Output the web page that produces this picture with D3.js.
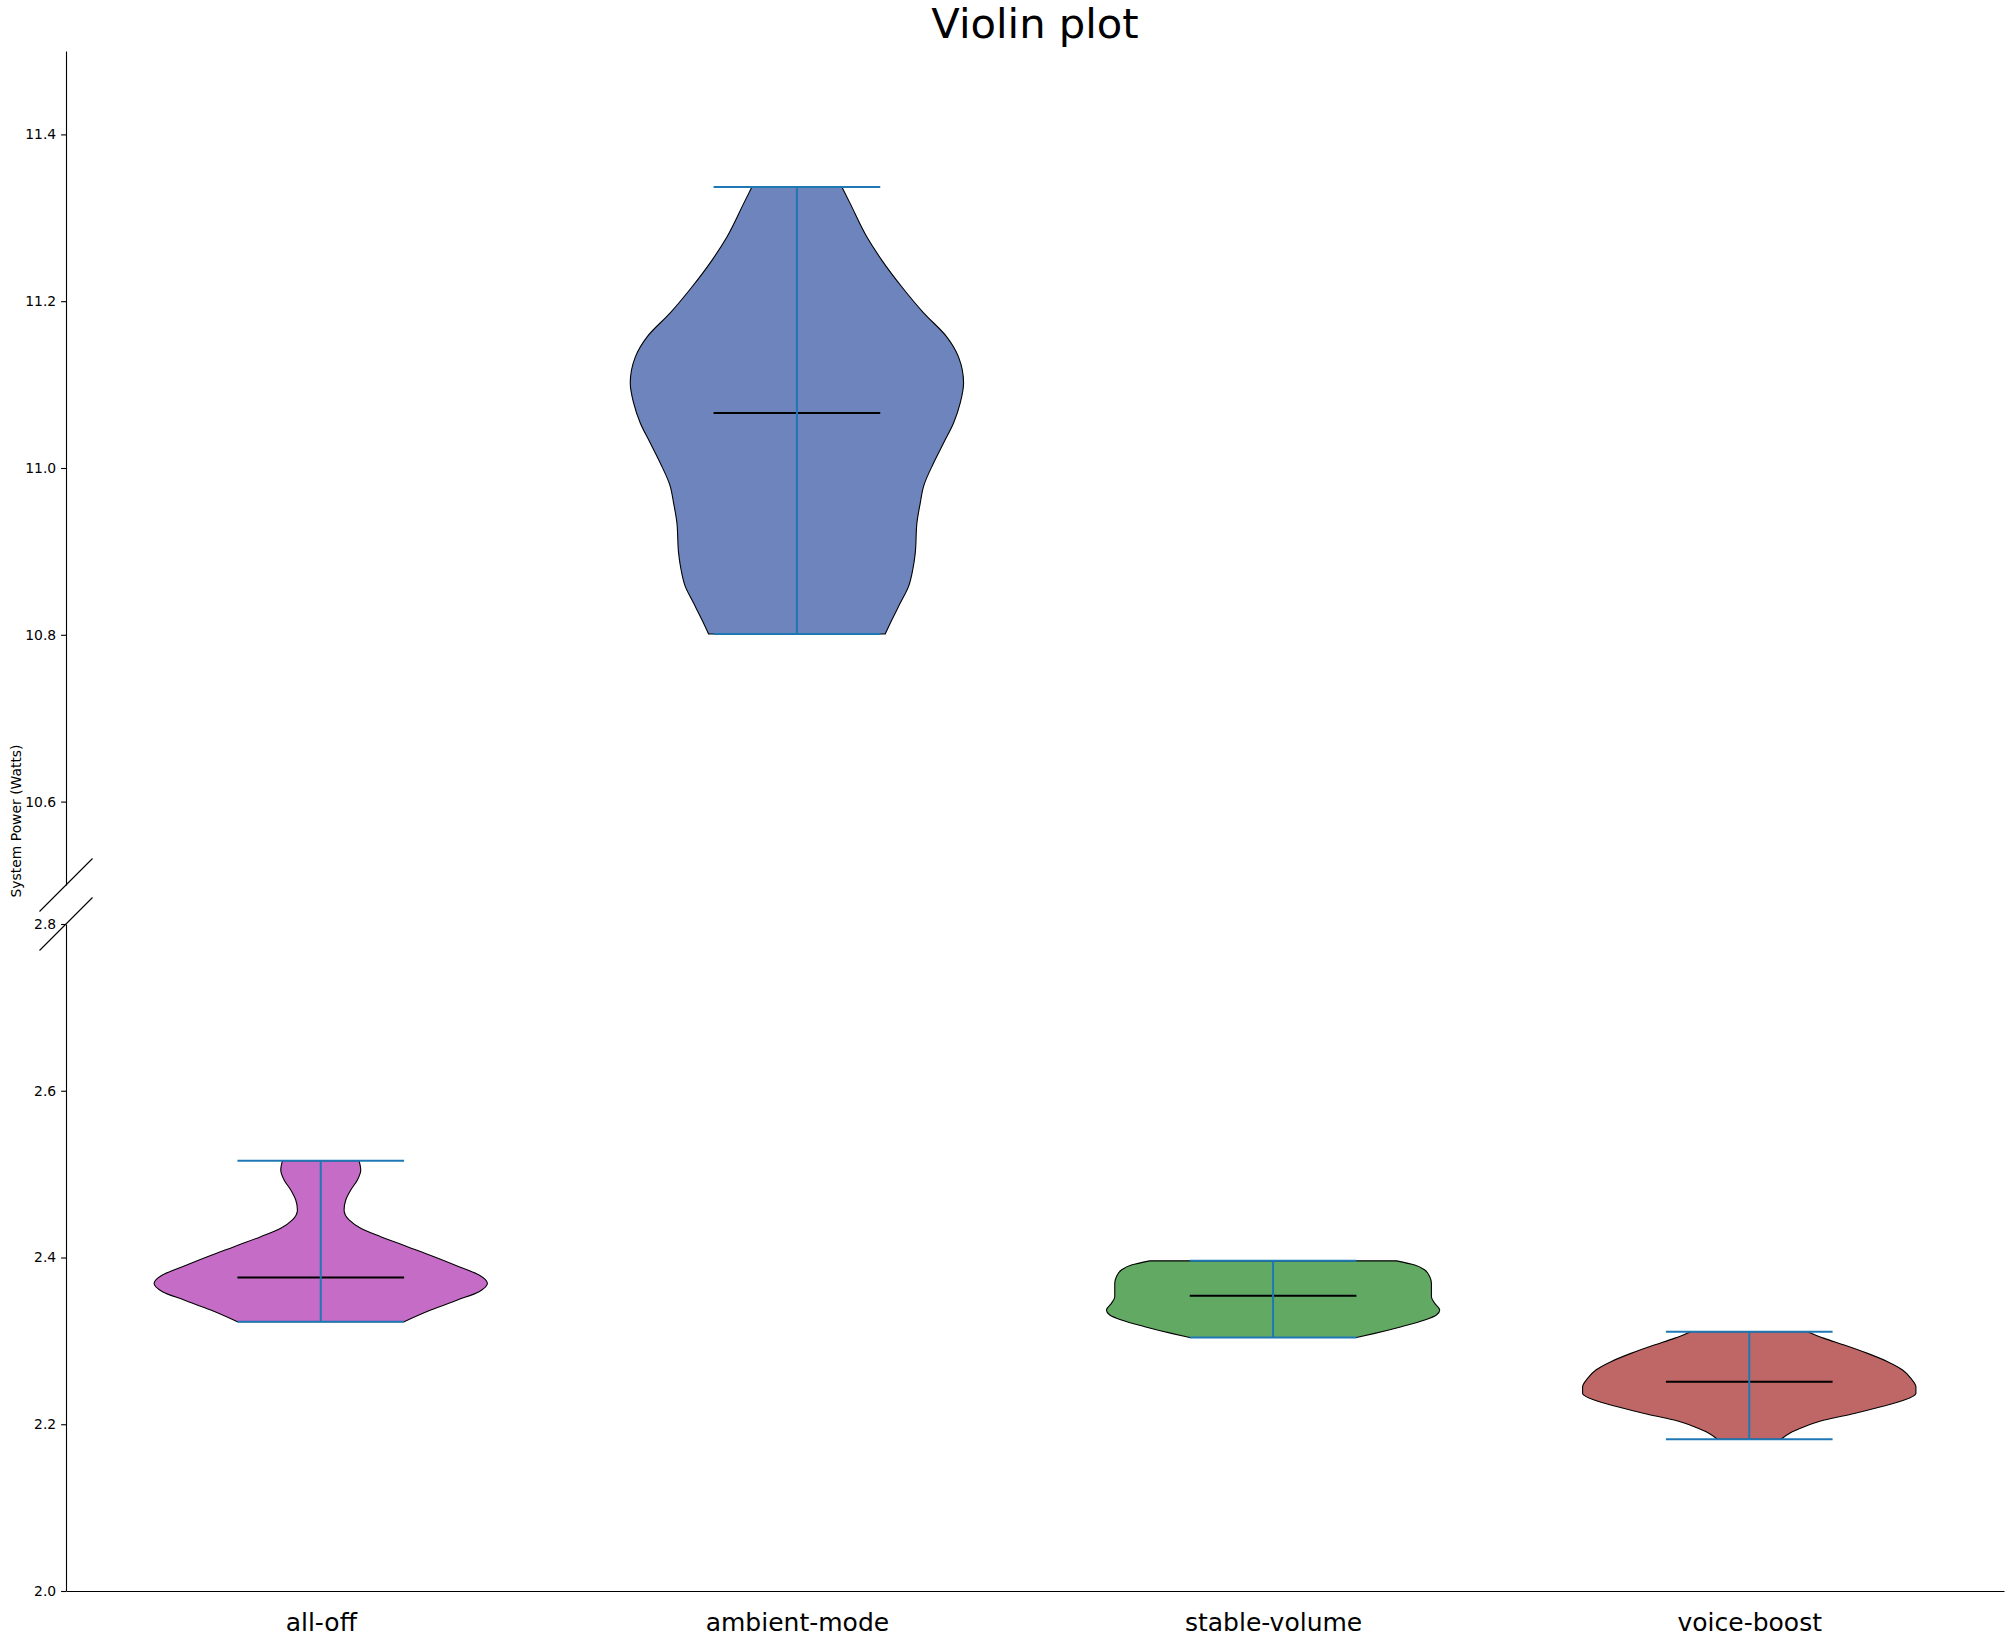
<!DOCTYPE html>
<html>
<head>
<meta charset="utf-8">
<script src="https://d3js.org/d3.v7.min.js"></script>
<style>
  html, body { margin: 0; padding: 0; background: #fff; }
  svg { display: block; font-family: 'DejaVu Sans', sans-serif; }
</style>
</head>
<body>
<svg id="chart" width="2013" height="1646"></svg>
<script>
  const categories = ['all-off', 'ambient-mode', 'stable-volume', 'voice-boost'];
  const positions = [1, 2, 3, 4];
  const mins = [2.323, 10.801, 2.304, 2.182];
  const maxs = [2.516, 11.337, 2.396, 2.311];
  const medians = [2.376, 11.066, 2.354, 2.251];

  // violin outlines: [watts, relative half-width]
  const allOffShape = [
    [2.516, 0.23], [2.505, 0.24], [2.493, 0.22], [2.481, 0.18], [2.469, 0.15],
    [2.457, 0.14], [2.445, 0.17], [2.435, 0.24], [2.425, 0.36], [2.413, 0.52],
    [2.401, 0.68], [2.389, 0.83], [2.379, 0.95], [2.369, 1.0], [2.359, 0.95],
    [2.349, 0.82], [2.337, 0.66], [2.323, 0.50]
  ];
  const ambientShape = [
    [11.337, 0.27], [11.317, 0.32], [11.277, 0.42], [11.249, 0.51], [11.217, 0.63],
    [11.186, 0.76], [11.157, 0.90], [11.133, 0.97], [11.102, 1.0], [11.078, 0.98],
    [11.054, 0.94], [11.030, 0.88], [11.006, 0.82], [10.978, 0.76], [10.958, 0.74],
    [10.934, 0.72], [10.898, 0.71], [10.878, 0.695], [10.858, 0.67], [10.838, 0.62],
    [10.818, 0.57], [10.801, 0.53]
  ];
  const stableShape = [
    [2.396, 0.74], [2.391, 0.85], [2.385, 0.91], [2.377, 0.94], [2.369, 0.95],
    [2.361, 0.95], [2.353, 0.95], [2.345, 0.97], [2.337, 1.0], [2.331, 0.98],
    [2.325, 0.91], [2.317, 0.77], [2.309, 0.61], [2.304, 0.50]
  ];
  const voiceShape = [
    [2.311, 0.35], [2.303, 0.45], [2.295, 0.57], [2.285, 0.71], [2.275, 0.83],
    [2.265, 0.92], [2.255, 0.97], [2.245, 1.0], [2.237, 1.0], [2.229, 0.93],
    [2.221, 0.79], [2.213, 0.63], [2.205, 0.45], [2.197, 0.33], [2.189, 0.24],
    [2.182, 0.19]
  ];
  const shapes = [allOffShape, ambientShape, stableShape, voiceShape];
  const fills = ['#c46cc6', '#6e84bd', '#62aa63', '#bf6766'];

  const upperTicks = [10.6, 10.8, 11.0, 11.2, 11.4];
  const lowerTicks = [2.0, 2.2, 2.4, 2.6, 2.8];

  const LEFT = 66, RIGHT = 2004;
  const HALF = 0.35;       // half violin width, x units
  const CAP = 0.175;       // half cap / median length
  const LINE_BLUE = '#1f77b4';

  const x = d3.scaleLinear().domain([0.465, 4.535]).range([LEFT, RIGHT]);
  const yTop = d3.scaleLinear().domain([10.5, 11.5]).range([885, 51]);
  const yBot = d3.scaleLinear().domain([2.0, 2.8]).range([1591, 924]);
  const y = v => v > 5 ? yTop(v) : yBot(v);

  const svg = d3.select('#chart');
  svg.append('rect').attr('width', 2013).attr('height', 1646).attr('fill', '#fff');

  // y axes (broken)
  const styleAxis = g => {
    g.attr('font-family', "'DejaVu Sans', sans-serif").attr('font-size', 13.9);
    g.selectAll('path, line').attr('stroke', '#000').attr('stroke-width', 1.1);
    g.selectAll('text').attr('fill', '#000');
  };
  svg.append('g').attr('transform', `translate(${LEFT},0)`)
    .call(d3.axisLeft(yTop).tickValues(upperTicks).tickFormat(d3.format('.1f'))
      .tickSize(4.9).tickSizeOuter(0).tickPadding(4.9))
    .call(styleAxis);
  svg.append('g').attr('transform', `translate(${LEFT},0)`)
    .call(d3.axisLeft(yBot).tickValues(lowerTicks).tickFormat(d3.format('.1f'))
      .tickSize(4.9).tickSizeOuter(0).tickPadding(4.9))
    .call(styleAxis);

  // x axis
  svg.append('g').attr('transform', `translate(0,${yBot(2.0)})`)
    .call(d3.axisBottom(x).tickValues(positions).tickFormat((d, i) => categories[i])
      .tickSize(0).tickSizeOuter(0).tickPadding(22))
    .call(styleAxis)
    .attr('font-size', 25);

  // break marks
  const brk = 26.5;
  [yTop(10.5), yBot(2.8)].forEach(yy => {
    svg.append('line')
      .attr('x1', LEFT - brk).attr('y1', yy + brk)
      .attr('x2', LEFT + brk).attr('y2', yy - brk)
      .attr('stroke', '#000').attr('stroke-width', 1.1);
  });

  // violin bodies
  const body = (pos) => d3.area()
    .y(d => y(d[0]))
    .x0(d => x(pos - d[1] * HALF))
    .x1(d => x(pos + d[1] * HALF))
    .curve(d3.curveMonotoneY);

  svg.append('g').selectAll('path').data(shapes).join('path')
    .attr('d', (s, i) => body(positions[i])(s))
    .attr('fill', (s, i) => fills[i])
    .attr('stroke', '#000')
    .attr('stroke-width', 1.1);

  // medians, bars, caps
  const lines = svg.append('g').attr('fill', 'none');
  lines.selectAll('.median').data(medians).join('line').attr('class', 'median')
    .attr('x1', (d, i) => x(positions[i] - CAP)).attr('x2', (d, i) => x(positions[i] + CAP))
    .attr('y1', d => y(d)).attr('y2', d => y(d))
    .attr('stroke', '#000').attr('stroke-width', 2);
  lines.selectAll('.bar').data(positions).join('line').attr('class', 'bar')
    .attr('x1', d => x(d)).attr('x2', d => x(d))
    .attr('y1', (d, i) => y(mins[i])).attr('y2', (d, i) => y(maxs[i]))
    .attr('stroke', LINE_BLUE).attr('stroke-width', 2);
  [mins, maxs].forEach(vals => {
    lines.append('g').selectAll('line').data(vals).join('line')
      .attr('x1', (d, i) => x(positions[i] - CAP)).attr('x2', (d, i) => x(positions[i] + CAP))
      .attr('y1', d => y(d)).attr('y2', d => y(d))
      .attr('stroke', LINE_BLUE).attr('stroke-width', 2);
  });

  // labels
  svg.append('text')
    .attr('x', (LEFT + RIGHT) / 2).attr('y', 38)
    .attr('text-anchor', 'middle').attr('font-size', 41.7)
    .text('Violin plot');

  svg.append('text')
    .attr('transform', 'translate(21,821) rotate(-90)')
    .attr('text-anchor', 'middle').attr('font-size', 13.9)
    .text('System Power (Watts)');
</script>
</body>
</html>
